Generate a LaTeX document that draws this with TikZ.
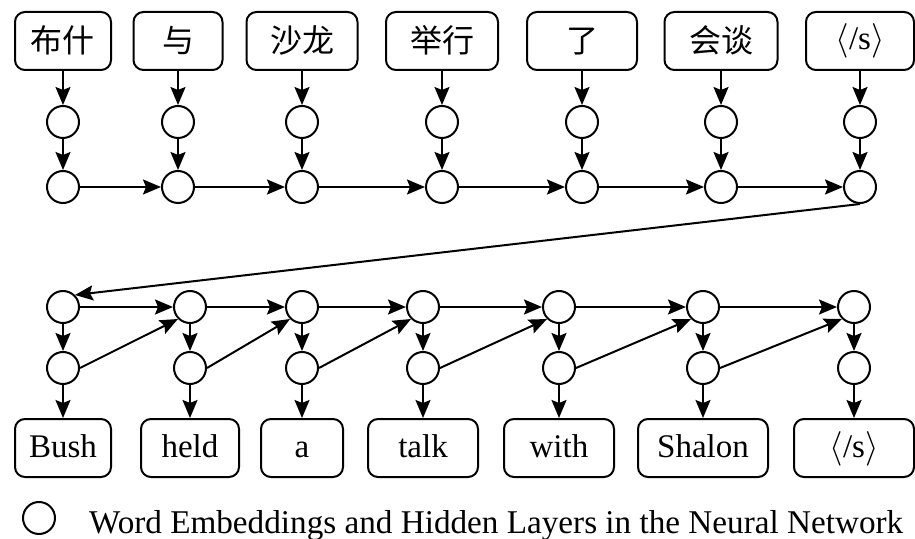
\documentclass[tikz,border=0pt]{standalone}
\usepackage{fontspec}
\setmainfont{Liberation Serif}
\newfontfamily\cjk{Noto Sans CJK SC}
\usetikzlibrary{arrows.meta}

\newcommand{\zh}[1]{\raisebox{-1.5pt}{\fontsize{16}{18}\selectfont\cjk #1}}

\tikzset{
  word/.style={draw, line width=1pt, rounded corners=5pt, inner sep=0pt,
    minimum height=29pt, text height=12pt, text depth=3pt,
    font=\fontsize{16.5}{18}\selectfont},
  unit/.style={draw, circle, line width=1pt, minimum size=16pt, inner sep=0pt},
  link/.style={line width=1pt, -{Stealth[length=9pt,width=7.5pt,inset=1.5pt]}}
}

\begin{document}
\begin{tikzpicture}[x=0.5pt, y=-0.5pt]
  \useasboundingbox (0,0) rectangle (915,539);

  % source sentence, embeddings, encoder
  \foreach \x/\w/\lab [count=\i] in {63/48/{\zh{布什}}, 178/44.5/{\zh{与}},
      302/55.5/{\zh{沙龙}}, 442/56/{\zh{举行}}, 582/55/{\zh{了}},
      721/56.5/{\zh{会谈}}, 860/54/{$\langle$/s$\rangle$}} {
    \node[word, minimum width=\w pt] (s\i) at (\x,41) {\lab};
    \node[unit] (e\i) at (\x,122) {};
    \node[unit] (h\i) at (\x,187) {};
  }

  % decoder and target sentence
  \foreach \x/\w/\lab [count=\i] in {63/48/Bush, 190/49/held, 302/41/a,
      423/55/talk, 559/55/with, 703/65/Shalon, 854/60/{$\langle$/s$\rangle$}} {
    \node[unit] (d\i) at (\x,307) {};
    \node[unit] (y\i) at (\x,368) {};
    \node[word, minimum width=\w pt] (t\i) at (\x,448) {\lab};
  }

  \foreach \i in {1,...,7} {
    \draw[link] (s\i) -- (e\i);
    \draw[link] (e\i) -- (h\i);
    \draw[link] (d\i) -- (y\i);
    \draw[link] (y\i) -- (t\i);
  }
  \foreach \j [count=\i] in {2,...,7} {
    \draw[link] (h\i) -- (h\j);
    \draw[link] (d\i) -- (d\j);
    \draw[link] (y\i.east) -- (d\j.south west);
  }
  \draw[link] (h7.south) -- (d1.north east);

  % legend
  \node[unit] (key) at (39,518) {};
  \node[anchor=base west, font=\fontsize{16.6}{20}\selectfont] (keytext) at (82,533)
    {Word Embeddings and Hidden Layers in the Neural Network};
\end{tikzpicture}
\end{document}
